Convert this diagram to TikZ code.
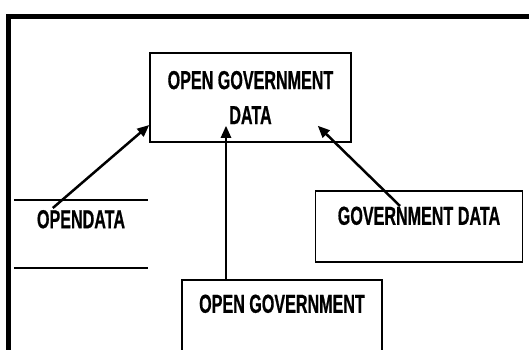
\documentclass[tikz,border=0pt]{standalone}
\usepackage{fontspec}
\usetikzlibrary{arrows.meta}
\newfontfamily\boxfont[FakeStretch=0.62,FakeBold=0.6]{Liberation Sans}

\begin{document}
\begin{tikzpicture}[x=1pt,y=-1pt,
    lbl/.style={font=\boxfont\bfseries\fontsize{26}{35}\selectfont,inner sep=0pt},
    box/.style={lbl,draw,line width=1.5pt},
    link/.style={-{Triangle[length=12pt,width=10pt]},line width=2.5pt}]
  \useasboundingbox (0,0) rectangle (529,349);
  % outer frame, cut off at the right and bottom
  \draw[line width=4.5pt] (540,16.5) -- (8.5,16.5) -- (8.5,360);
  \node[box,minimum width=201pt,minimum height=89pt,align=center] (ogd) at (250.5,97.5) {OPEN GOVERNMENT\\DATA};
  \node[lbl,minimum width=134pt,text height=28pt,text depth=40pt,anchor=north] (od) at (81,200) {OPENDATA};
  \draw[line width=2pt] (od.north west) -- (od.north east) (od.south west) -- (od.south east);
  \node[box,minimum width=207pt,text height=34pt,text depth=37pt,anchor=north] (gd) at (419,190) {GOVERNMENT DATA};
  \node[box,minimum width=200pt,text height=33pt,text depth=80pt,anchor=north] (og) at (282,279) {OPEN GOVERNMENT};
  \draw[link] ([shift={(39pt,-8pt)}]od.north west) -- ([yshift=-27.5pt]ogd.west);
  \draw[link] ([xshift=-56pt]og.north) -- ([shift={(-24.5pt,17pt)}]ogd.south);
  \draw[link] ([shift={(-19pt,-16pt)}]gd.north) -- ([shift={(-34pt,17pt)}]ogd.south east);
\end{tikzpicture}
\end{document}
